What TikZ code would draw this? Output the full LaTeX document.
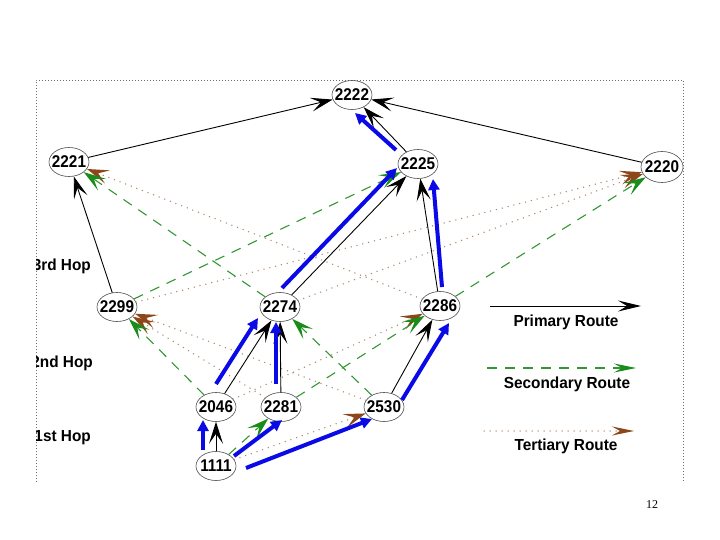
\documentclass[tikz,border=0pt]{standalone}
\usepackage{fontspec}
\newfontfamily\diagfont{Liberation Sans Bold}[FakeStretch=0.96]
\newfontfamily\numfont{Liberation Sans Bold}[FakeStretch=0.9]
\newfontfamily\pgnumfont{Liberation Serif}
\usetikzlibrary{arrows.meta,shapes.geometric}
\definecolor{greenline}{RGB}{50,150,50}
\definecolor{greentip}{RGB}{25,140,25}
\definecolor{browndot}{RGB}{170,135,105}
\definecolor{browntip}{RGB}{140,70,25}
\definecolor{bluepath}{RGB}{10,10,230}
\definecolor{framegray}{RGB}{110,110,110}
\tikzset{
  hopnode/.style={ellipse, draw=black!70, line width=0.6pt, minimum width=40pt, minimum height=29pt, inner sep=0pt, font=\numfont\fontsize{17}{17}\selectfont},
  labeltext/.style={font=\diagfont\fontsize{16}{16}\selectfont, inner sep=0pt},
  primary/.style={draw=black, line width=0.9pt, -{Stealth[length=22pt,width=14pt,inset=10pt]}},
  secondary/.style={draw=greenline, line width=1.1pt, dash pattern=on 10pt off 8pt, -{Stealth[length=22pt,width=14pt,inset=10pt,color=greentip]}},
  tertiary/.style={draw=browndot, line width=1.5pt, line cap=round, dash pattern=on 0pt off 6pt, -{Stealth[length=22pt,width=14pt,inset=10pt,color=browntip,line cap=butt]}},
  bluearrow/.style={draw=bluepath, line width=4pt, -{Triangle[length=11pt,width=11pt]}},
}
\begin{document}
\begin{tikzpicture}[x=1pt,y=-1pt]
\useasboundingbox (0,0) rectangle (720,540);
% frame (open at the bottom)
\draw[framegray, line width=0.7pt, dash pattern=on 1pt off 2pt] (36,482) -- (36,80) -- (683,80) -- (683,482);

% nodes
\node[hopnode] (n2222) at (352,95) {\makebox[0pt]{2222}};
\node[hopnode] (n2221) at (69,162) {\makebox[0pt]{2221}};
\node[hopnode] (n2225) at (418,164) {\makebox[0pt]{2225}};
\node[hopnode, minimum width=42pt, minimum height=31pt] (n2220) at (662,167) {\makebox[0pt]{2220}};
\node[hopnode] (n2299) at (117,307) {\makebox[0pt]{2299}};
\node[hopnode] (n2274) at (280,307) {\makebox[0pt]{2274}};
\node[hopnode] (n2286) at (440,306) {\makebox[0pt]{2286}};
\node[hopnode] (n2046) at (216,407) {\makebox[0pt]{2046}};
\node[hopnode] (n2281) at (281,407) {\makebox[0pt]{2281}};
\node[hopnode] (n2530) at (384,407) {\makebox[0pt]{2530}};
\node[hopnode] (n1111) at (216,466) {\makebox[0pt]{1111}};

% hop labels (clipped by the frame)
\begin{scope}
\clip (36,0) rectangle (720,540);
\node[labeltext, anchor=east] (h3) at (91,266) {3rd Hop};
\node[labeltext, anchor=east] (h2) at (93,363) {2nd Hop};
\node[labeltext, anchor=east] (h1) at (91,438) {1st Hop};
\end{scope}

% tertiary routes
\draw[tertiary] (n2286) -- (n2221);
\draw[tertiary] (n2299) -- (n2220);
\draw[tertiary] (n2274) -- (n2220);
\draw[tertiary] (n2281) -- (n2299);
\draw[tertiary] (n2530) -- (n2299);
\draw[tertiary] (n2046) -- (n2286);
\draw[tertiary] (n1111) -- (n2530);

% secondary routes
\draw[secondary] (n2274) -- (n2221);
\draw[secondary] (n2299) -- (n2225);
\draw[secondary] (n2286) -- (n2220);
\draw[secondary] (n2046) -- (n2299);
\draw[secondary] (n2530) -- (n2274);
\draw[secondary] (n2281) -- (n2286);
\draw[secondary] (n1111) -- (n2281);

% primary routes
\draw[primary] (n2221) -- (n2222);
\draw[primary] (n2220) -- (n2222);
\draw[primary] (n2225) -- (n2222);
\draw[primary] (n2299) -- (n2221);
\draw[primary] (n2274) -- (n2225);
\draw[primary] (n2286) -- (n2225);
\draw[primary] (n2046) -- (n2274);
\draw[primary] (n2281) -- (n2274);
\draw[primary] (n2530) -- (n2286);
\draw[primary] (n1111) -- (n2046);

% highlighted path (blue)
\coordinate (b1s) at (203,450); \coordinate (b1e) at (203,420);
\coordinate (b2s) at (234,456); \coordinate (b2e) at (282,420);
\coordinate (b3s) at (246,468); \coordinate (b3e) at (372,419);
\coordinate (b4s) at (216,384); \coordinate (b4e) at (258,318);
\coordinate (b5s) at (276,384); \coordinate (b5e) at (276,322);
\coordinate (b6s) at (402,400); \coordinate (b6e) at (449,323);
\coordinate (b7s) at (282,288); \coordinate (b7e) at (397,168);
\coordinate (b8s) at (442,287); \coordinate (b8e) at (433,179);
\coordinate (b9s) at (396,150); \coordinate (b9e) at (355,113);
\foreach \i in {1,...,9} {\draw[bluearrow] (b\i s) -- (b\i e);}

% legend
\coordinate (lp1) at (490,306); \coordinate (lp2) at (641,306);
\coordinate (ls1) at (487,368); \coordinate (ls2) at (636,368);
\coordinate (lt1) at (484,431); \coordinate (lt2) at (634,431);
\draw[primary, -{Stealth[length=23pt,width=11pt,inset=9pt]}] (lp1) -- (lp2);
\draw[secondary, -{Stealth[length=22pt,width=9pt,inset=8pt,color=greentip]}] (ls1) -- (ls2);
\draw[tertiary, -{Stealth[length=22pt,width=9pt,inset=8pt,color=browntip,line cap=butt]}] (lt1) -- (lt2);
\node[labeltext] (lpt) at (566,322) {Primary Route};
\node[labeltext] (lst) at (567,384) {Secondary Route};
\node[labeltext] (ltt) at (566,446) {Tertiary Route};

% page number
\node[font=\pgnumfont\fontsize{12}{12}\selectfont, inner sep=0pt] (pg) at (652,505) {12};
\end{tikzpicture}
\end{document}
